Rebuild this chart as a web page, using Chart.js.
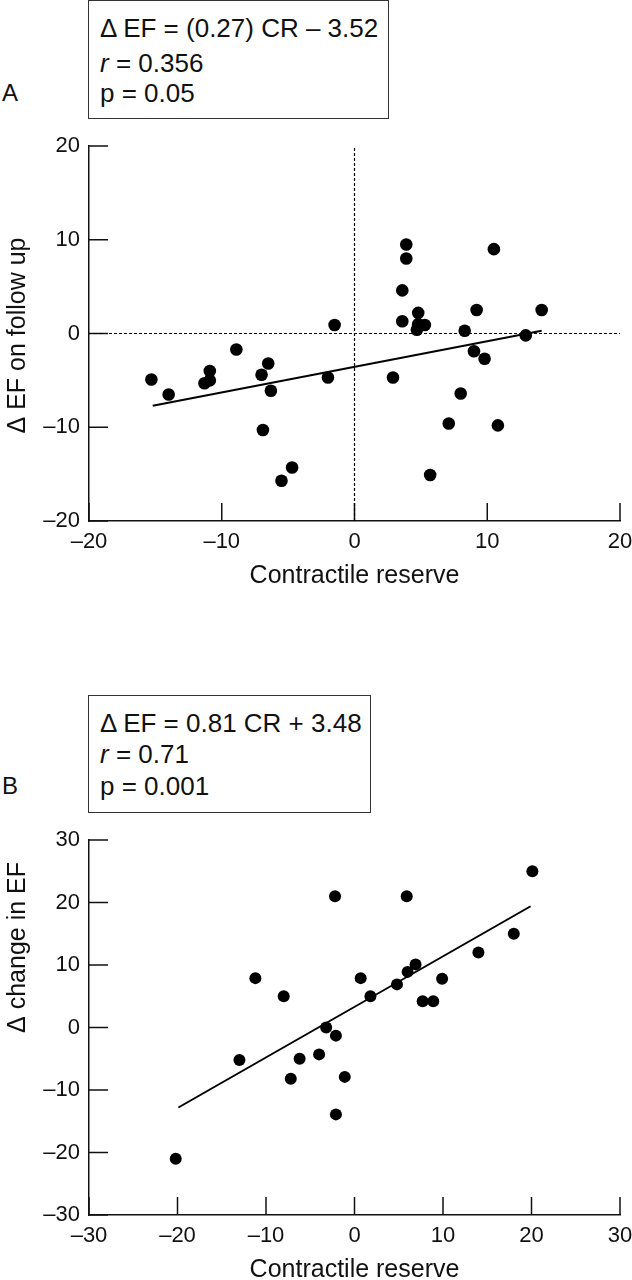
<!DOCTYPE html>
<html>
<head>
<meta charset="utf-8">
<title>Contractile reserve vs change in EF</title>
<script src="https://cdn.jsdelivr.net/npm/chart.js@4.4.1/dist/chart.umd.min.js"></script>
<style>
  html, body { margin: 0; padding: 0; background: #fff; overflow: hidden; }
  body { width: 632px; height: 1280px; position: relative; font-family: "Liberation Sans", Arial, sans-serif; color: #111; }
  canvas { position: absolute; left: 0; }
  .box { position: absolute; left: 88px; border: 1.5px solid #333; box-sizing: border-box; }
  .ln { position: absolute; left: 100px; font-size: 26px; line-height: 26px; white-space: nowrap; }
  .tag { position: absolute; left: 2px; font-size: 24px; line-height: 24px; }
</style>
</head>
<body>

<div class="box" style="top:0px; width:301px; height:119px;"></div>
<div class="ln" style="top:15px;">Δ EF = (0.27) CR – 3.52</div>
<div class="ln" style="top:50px;"><i>r</i> = 0.356</div>
<div class="ln" style="top:80px;">p = 0.05</div>
<div class="tag" style="top:81px;">A</div>

<canvas id="chartA" width="632" height="600" style="top:0px;"></canvas>

<div class="box" style="top:695px; width:283px; height:118px;"></div>
<div class="ln" style="top:710px;">Δ EF = 0.81 CR + 3.48</div>
<div class="ln" style="top:741px;"><i>r</i> = 0.71</div>
<div class="ln" style="top:773px;">p = 0.001</div>
<div class="tag" style="top:774px;">B</div>

<canvas id="chartB" width="632" height="680" style="top:620px;"></canvas>

<script>
// panel A: contractile reserve vs change in EF on follow up
const aCR = [-15.3, -14.0, -11.3, -10.9, -10.9, -8.9, -7.0, -6.5, -6.3, -6.9, -4.7, -5.5, -2.0, -1.5,
             3.9, 3.9, 3.6, 3.6, 4.8, 4.7, 5.3, 4.8, 2.9, 5.7, 7.1, 8.0, 8.3, 9.0, 9.2, 9.8, 10.5, 10.8, 12.9, 14.1];
const aEF = [-4.9, -6.5, -5.3, -4.0, -5.0, -1.7, -4.4, -3.2, -6.1, -10.3, -14.3, -15.7, -4.7, 0.9,
             9.5, 8.0, 4.6, 1.3, 2.2, 0.4, 0.9, 1.0, -4.7, -15.1, -9.6, -6.4, 0.3, -1.9, 2.5, -2.7, 9.0, -9.8, -0.2, 2.5];
const aFitX = [-15.2, 14.1];
const aFitY = [-7.7, 0.3];
const aXTicks = [-20, -10, 0, 10, 20];
const aYTicks = [-20, -10, 0, 10, 20];

// panel B: contractile reserve vs change in EF
const bCR = [-20.2, -13.0, -11.2, -8.0, -7.2, -6.2, -4.0, -3.2, -2.1, -2.2, -2.1, -1.1,
             0.7, 1.8, 4.8, 5.9, 6.0, 6.9, 7.7, 8.9, 9.9, 14.0, 18.0, 20.1];
const bEF = [-21.0, -5.2, 7.9, 5.0, -8.2, -5.0, -4.3, 0.0, -1.3, 21.0, -13.9, -7.9,
             7.9, 5.0, 6.9, 21.0, 8.9, 10.1, 4.2, 4.2, 7.8, 12.0, 15.0, 25.0];
const bFitX = [-19.9, 19.9];
const bFitY = [-12.8, 19.4];
const bXTicks = [-30, -20, -10, 0, 10, 20, 30];
const bYTicks = [-30, -20, -10, 0, 10, 20, 30];

const FONT = '"Liberation Sans", Arial, sans-serif';
const INK = '#111';

function pts(xs, ys) {
    return xs.map((x, i) => ({ x: x, y: ys[i] }));
}

function fmt(v) {
    return v < 0 ? '–' + Math.abs(v) : String(v);
}

// tick marks point inward, from the axis into the plot
const innerTicks = {
    id: 'innerTicks',
    beforeDatasetsDraw(chart) {
        const ctx = chart.ctx;
        const area = chart.chartArea;
        const xs = chart.scales.x;
        const ys = chart.scales.y;
        ctx.save();
        ctx.strokeStyle = INK;
        ctx.lineWidth = 1.5;
        xs.ticks.forEach(t => {
            const p = xs.getPixelForValue(t.value);
            ctx.beginPath();
            ctx.moveTo(p, area.bottom);
            ctx.lineTo(p, area.bottom - 18);
            ctx.stroke();
        });
        ys.ticks.forEach(t => {
            const p = ys.getPixelForValue(t.value);
            ctx.beginPath();
            ctx.moveTo(area.left, p);
            ctx.lineTo(area.left + 19, p);
            ctx.stroke();
        });
        ctx.restore();
    }
};

// vertical axis title, can sit off the middle of the axis
const sideTitle = {
    id: 'sideTitle',
    afterDraw(chart, args, opts) {
        const ctx = chart.ctx;
        const area = chart.chartArea;
        ctx.save();
        ctx.translate(18, (area.top + area.bottom) / 2 + opts.shift);
        ctx.rotate(-Math.PI / 2);
        ctx.fillStyle = INK;
        ctx.font = '25px ' + FONT;
        ctx.textAlign = 'center';
        ctx.textBaseline = 'middle';
        ctx.fillText(opts.text, 0, 0);
        ctx.restore();
    }
};

function makeChart(id, cfg) {
    const datasets = [
        {
            data: pts(cfg.cr, cfg.ef),
            showLine: false,
            pointRadius: cfg.radius,
            pointBackgroundColor: '#000',
            pointBorderWidth: 0
        },
        {
            data: pts(cfg.fitX, cfg.fitY),
            showLine: true,
            borderColor: '#000',
            borderWidth: 2,
            pointRadius: 0
        }
    ];
    if (cfg.zeroLines) {
        const xr = [cfg.xTicks[0], cfg.xTicks[cfg.xTicks.length - 1]];
        const yr = [cfg.yTicks[0], cfg.yTicks[cfg.yTicks.length - 1]];
        datasets.push({
            data: pts(xr, [0, 0]),
            showLine: true, borderColor: '#000', borderWidth: 1.2, borderDash: [3, 2], pointRadius: 0
        });
        datasets.push({
            data: pts([0, 0], yr),
            showLine: true, borderColor: '#000', borderWidth: 1.2, borderDash: [3, 2], pointRadius: 0
        });
    }

    return new Chart(document.getElementById(id), {
        type: 'scatter',
        data: { datasets: datasets },
        plugins: [innerTicks, sideTitle],
        options: {
            responsive: false,
            animation: false,
            devicePixelRatio: 1,
            layout: { padding: { top: cfg.padTop, right: 12, bottom: 0, left: 0 } },
            plugins: {
                legend: { display: false },
                tooltip: { enabled: false },
                sideTitle: { text: cfg.yTitle, shift: cfg.yTitleShift }
            },
            scales: {
                x: {
                    type: 'linear',
                    min: cfg.xTicks[0],
                    max: cfg.xTicks[cfg.xTicks.length - 1],
                    afterBuildTicks: s => { s.ticks = cfg.xTicks.map(v => ({ value: v })); },
                    afterFit: s => { s.height = cfg.xHeight; s.paddingLeft = 0; s.paddingRight = 0; },
                    grid: { display: false, drawTicks: false },
                    border: { display: true, color: INK, width: 1.5 },
                    ticks: {
                        padding: 8, color: INK, autoSkip: false, maxRotation: 0,
                        font: { family: FONT, size: 22 },
                        callback: fmt
                    },
                    title: {
                        display: true,
                        text: 'Contractile reserve',
                        color: INK,
                        font: { family: FONT, size: 25, lineHeight: 1.2 },
                        padding: { top: 0, bottom: cfg.titlePad }
                    }
                },
                y: {
                    type: 'linear',
                    min: cfg.yTicks[0],
                    max: cfg.yTicks[cfg.yTicks.length - 1],
                    afterBuildTicks: s => { s.ticks = cfg.yTicks.map(v => ({ value: v })); },
                    afterFit: s => { s.width = 89; },
                    grid: { display: false, drawTicks: false },
                    border: { display: true, color: INK, width: 1.5 },
                    ticks: {
                        padding: 9, color: INK, autoSkip: false,
                        font: { family: FONT, size: 22 },
                        callback: fmt
                    },
                    title: { display: false }
                }
            }
        }
    });
}

makeChart('chartA', {
    cr: aCR, ef: aEF, fitX: aFitX, fitY: aFitY,
    xTicks: aXTicks, yTicks: aYTicks,
    yTitle: 'Δ EF on follow up', yTitleShift: 2,
    radius: 6.3, zeroLines: true,
    padTop: 146, xHeight: 79, titlePad: 9
});

makeChart('chartB', {
    cr: bCR, ef: bEF, fitX: bFitX, fitY: bFitY,
    xTicks: bXTicks, yTicks: bYTicks,
    yTitle: 'Δ change in EF', yTitleShift: -80,
    radius: 6, zeroLines: false,
    padTop: 220, xHeight: 85, titlePad: 15
});
</script>
</body>
</html>
